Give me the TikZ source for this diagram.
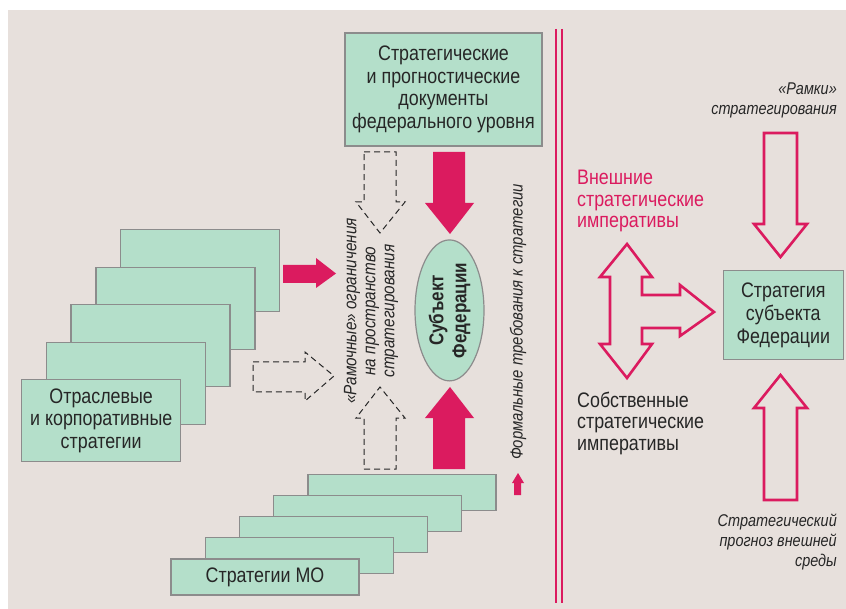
\documentclass[tikz,border=0pt]{standalone}
\usepackage{fontspec}
\setmainfont[FakeStretch=0.85]{Liberation Sans}
\usetikzlibrary{shapes.geometric}
\definecolor{bg}{HTML}{E7E0DC}
\definecolor{grn}{HTML}{B4DFCA}
\definecolor{pnk}{HTML}{DB1B5F}
\definecolor{bord}{HTML}{8C8C8C}
\definecolor{txt}{HTML}{262626}
\begin{document}
\begin{tikzpicture}[x=1pt,y=-1pt,
  gbox/.style={draw=bord, line width=1.2pt, fill=grn, inner sep=0pt, text=txt, align=center, font=\fontsize{21}{22.7}\selectfont},
  pinkfill/.style={fill=pnk, draw=none},
  hollow/.style={draw=pnk, line width=2.6pt, line join=miter, fill=none},
  dasharr/.style={draw=txt, line width=1pt, dash pattern=on 6pt off 4pt},
  lbl/.style={text=txt, font=\fontsize{21}{21.5}\selectfont, inner sep=0pt},
  itl/.style={text=txt, font=\fontsize{17}{20}\selectfont\itshape, inner sep=0pt}]
\useasboundingbox (0,0) rectangle (846,609);
\fill[white] (0,0) rectangle (846,609);
\fill[bg] (8,10) rectangle (846,609);

% top box
\node[gbox, minimum width=197, minimum height=113] (fed) at (443.5,89.5)
  {Стратегические\\и прогностические\\документы\\федерального уровня};

% left stack
\node[gbox, minimum width=159, minimum height=82] (l1) at (200,270.8) {};
\node[gbox, minimum width=159, minimum height=82] (l2) at (175.5,308.3) {};
\node[gbox, minimum width=159, minimum height=82] (l3) at (150.5,345.8) {};
\node[gbox, minimum width=159, minimum height=82] (l4) at (125.8,383.3) {};
\node[gbox, minimum width=159, minimum height=82] (l5) at (101.2,420.8) {Отраслевые\\и корпоративные\\стратегии};

% bottom stack
\node[gbox, minimum width=188, minimum height=36] (b1) at (402,492.8) {};
\node[gbox, minimum width=188, minimum height=36] (b2) at (367.8,513.7) {};
\node[gbox, minimum width=188, minimum height=36] (b3) at (333.3,534.5) {};
\node[gbox, minimum width=188, minimum height=36] (b4) at (299.5,555.5) {};
\node[gbox, minimum width=188, minimum height=36] (b5) at (265,577) {Стратегии МО};

% ellipse
\node[ellipse, draw=bord, line width=1.2pt, fill=grn, inner sep=0pt, rotate=90,
  minimum width=141, minimum height=69, text=txt, align=center,
  font=\fontsize{20}{23}\selectfont\bfseries] (subj) at (449.5,310.4) {Субъект\\Федерации};

% pink solid arrows
\fill[pnk] (433,152) -- (465,152) -- (465,203) -- (474,203) -- (450,234) -- (425,203) -- (433,203) -- cycle;
\fill[pnk] (433,469) -- (465,469) -- (465,418) -- (474,418) -- (450,387) -- (425,418) -- (433,418) -- cycle;
\fill[pnk] (283,265) -- (316,265) -- (316,258) -- (336,273.5) -- (316,288) -- (316,283) -- (283,283) -- cycle;
\fill[pnk] (514,495) -- (521,495) -- (521,483) -- (524,483) -- (518,473) -- (512,483) -- (514,483) -- cycle;

% dashed arrows
\draw[dasharr] (364,152) -- (396,152) -- (396,202) -- (405,202) -- (380,233) -- (356,202) -- (364,202) -- cycle;
\draw[dasharr] (364,469) -- (396,469) -- (396,418) -- (405,418) -- (380,387) -- (356,418) -- (364,418) -- cycle;
\draw[dasharr] (253,362) -- (305,362) -- (305,352) -- (334,376) -- (305,401) -- (305,392) -- (253,392) -- cycle;

% rotated labels
\node[itl, rotate=90, align=center, font=\fontsize{18}{19}\selectfont\itshape] (ramoch) at (371,311)
  {«Рамочные» ограничения\\на пространство\\стратегирования};
\node[itl, rotate=90, font=\fontsize{17.5}{20}\selectfont\itshape] (formal) at (518,322) {Формальные требования к стратегии};

% separator
\draw[pnk, line width=2.2pt] (556,29) -- (556,603);
\draw[pnk, line width=2.2pt] (562,29) -- (562,603);

% right side
\node[gbox, minimum width=120, minimum height=89] (strat) at (783.3,315.3) {Стратегия\\субъекта\\Федерации};

\node[itl, anchor=east, align=right] (ramki) at (837,100) {«Рамки»\\стратегирования};
\node[lbl, text=pnk, anchor=west, align=left] (vnesh) at (577,201) {Внешние\\стратегические\\императивы};
\node[lbl, anchor=west, align=left] (sobst) at (577,423) {Собственные\\стратегические\\императивы};
\node[itl, anchor=east, align=right] (prog) at (837,542) {Стратегический\\прогноз внешней\\среды};

\draw[hollow] (764,133) -- (797,133) -- (797,224) -- (807,224) -- (780.5,257) -- (754,224) -- (764,224) -- cycle;
\draw[hollow] (764,500) -- (797,500) -- (797,408) -- (807,408) -- (780.5,375) -- (754,408) -- (764,408) -- cycle;
\draw[hollow] (627,244) -- (652,277) -- (642,277) -- (642,295) -- (680,295) -- (680,285) -- (714,312)
  -- (680,336) -- (680,328) -- (642,328) -- (642,344) -- (652,344) -- (627,378) -- (600,344)
  -- (610,344) -- (610,277) -- (600,277) -- cycle;
\end{tikzpicture}
\end{document}
